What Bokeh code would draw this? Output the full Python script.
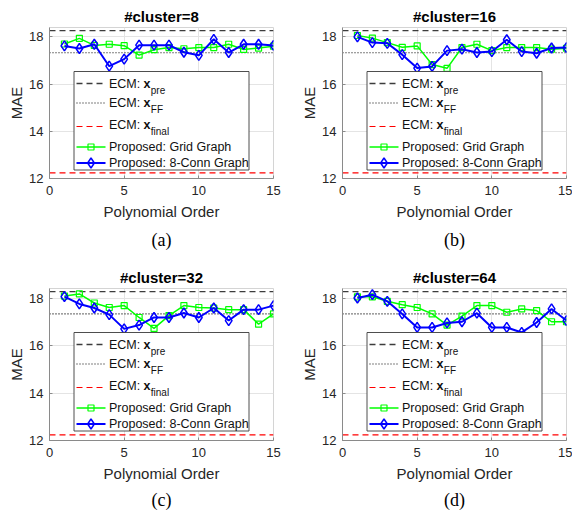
from bokeh.plotting import figure
from bokeh.models import Range1d, FixedTicker, Span, Title
from bokeh.layouts import column, row
from bokeh.embed import file_html
from bokeh.resources import INLINE
from bokeh.core.properties import value

# ---------------- data ----------------
orders = list(range(1, 16))
titles = ["#cluster=8", "#cluster=16", "#cluster=32", "#cluster=64"]
captions = ["(a)", "(b)", "(c)", "(d)"]
x_ticks = [0, 5, 10, 15]
y_ticks = [12, 14, 16, 18]

ecm_pre = 18.27
ecm_ff = 17.33
ecm_final = 12.24

grid_c8 = [17.70, 17.94, 17.64, 17.69, 17.63, 17.23, 17.46, 17.55, 17.50, 17.55, 17.55, 17.69, 17.47, 17.53, 17.61]
conn_c8 = [17.62, 17.51, 17.69, 16.76, 17.06, 17.65, 17.65, 17.65, 17.35, 17.22, 17.90, 17.34, 17.69, 17.69, 17.64]
grid_c16 = [18.06, 17.95, 17.76, 17.56, 17.62, 16.83, 16.67, 17.55, 17.69, 17.42, 17.55, 17.55, 17.55, 17.48, 17.52]
conn_c16 = [18.00, 17.76, 17.73, 17.25, 16.68, 16.75, 17.42, 17.48, 17.34, 17.38, 17.88, 17.38, 17.31, 17.53, 17.55]
grid_c32 = [18.08, 18.17, 17.79, 17.60, 17.68, 17.18, 16.72, 17.26, 17.68, 17.60, 17.58, 17.51, 17.51, 16.90, 17.33]
conn_c32 = [18.06, 17.75, 17.58, 17.30, 16.70, 16.86, 17.18, 17.18, 17.37, 17.18, 17.58, 17.05, 17.51, 17.51, 17.68]
grid_c64 = [18.05, 18.05, 17.86, 17.72, 17.60, 17.33, 16.86, 17.24, 17.68, 17.68, 17.40, 17.54, 17.47, 17.00, 17.00]
conn_c64 = [18.00, 18.14, 17.86, 17.33, 16.76, 16.76, 16.95, 17.00, 17.36, 16.76, 16.76, 16.55, 16.97, 17.54, 17.05]

X0, X1 = 0, 15
Y0, Y1 = 12, 18.4

SANS = "Liberation Sans"
SERIF = "Liberation Serif"
GREEN = "#00ff00"
BLUE = "#0000ff"
RED = "#ff0000"
DIAMOND = dict(marker="diamond", size=10, line_color=BLUE, fill_color=None, line_width=1.5)
SQUARE = dict(marker="square", size=6, line_color=GREEN, fill_color=None, line_width=1.2)


def make_panel(title, caption, grid_vals, conn_vals, left_b, right_b, top_b, bottom_b,
               height, cap_standoff):
    width = 286
    frame_w = width - left_b - right_b
    frame_h = height - top_b - bottom_b
    p = figure(width=width, height=height, output_backend="svg", toolbar_location=None,
               x_range=Range1d(X0, X1), y_range=Range1d(Y0, Y1),
               min_border_left=left_b, min_border_right=right_b,
               min_border_top=top_b, min_border_bottom=bottom_b)
    p.background_fill_color = "white"
    p.border_fill_color = "white"
    p.outline_line_color = "#d4d4d4"

    p.title.text = title
    p.title.align = "center"
    p.title.text_font = SANS
    p.title.text_font_size = "15px"
    p.title.text_font_style = "bold"
    p.title.text_color = "#000000"
    p.title.standoff = 6

    cap = Title(text=caption, align="center", text_font=SERIF, text_font_size="18px",
                text_font_style="normal", text_color="#000000", standoff=cap_standoff)
    p.add_layout(cap, "below")

    p.xaxis.ticker = FixedTicker(ticks=x_ticks)
    p.yaxis.ticker = FixedTicker(ticks=y_ticks)
    p.xaxis.axis_label = "Polynomial Order"
    p.yaxis.axis_label = "MAE"
    for ax in (p.xaxis[0], p.yaxis[0]):
        ax.axis_label_text_font = SANS
        ax.axis_label_text_font_size = "15px"
        ax.axis_label_text_font_style = "normal"
        ax.axis_label_text_color = "#262626"
        ax.major_label_text_font = SANS
        ax.major_label_text_font_size = "13px"
        ax.major_label_text_color = "#262626"
        ax.axis_line_color = "#8a8a8a"
        ax.major_tick_line_color = "#8a8a8a"
        ax.major_tick_in = 3
        ax.major_tick_out = 0
        ax.minor_tick_line_color = None
    p.xaxis.major_label_standoff = 7
    p.xaxis.axis_label_standoff = 5
    p.yaxis.major_label_standoff = 6
    p.yaxis.axis_label_standoff = 1

    p.xgrid.grid_line_color = "#e4e4e4"
    p.ygrid.grid_line_color = "#e4e4e4"

    p.add_layout(Span(location=ecm_pre, dimension="width", line_color="#3c3c3c",
                      line_dash="6 4", line_width=1.3, level="underlay"))
    p.add_layout(Span(location=ecm_ff, dimension="width", line_color="#000000",
                      line_dash="1 2", line_width=1.1, level="underlay"))
    p.add_layout(Span(location=ecm_final, dimension="width", line_color=RED,
                      line_dash="6 4", line_width=1.2, level="underlay"))

    p.line(orders, grid_vals, line_color=GREEN, line_width=1.5)
    p.scatter(orders, grid_vals, **SQUARE)
    p.line(orders, conn_vals, line_color=BLUE, line_width=2)
    p.scatter(orders, conn_vals, **DIAMOND)

    # ---- legend (drawn manually to get bold x with subscripts) ----
    ppx = frame_w / (X1 - X0)
    ppy = frame_h / (Y1 - Y0)

    def dx(px):
        return X0 + px / ppx

    def dy(py):
        return Y1 - py / ppy

    p.quad(left=[dx(24.5)], right=[dx(199.5)], top=[dy(44)], bottom=[dy(142.5)],
           fill_color="white", line_color="#3a3a3a", line_width=0.9)

    rows = [56.0, 75.0, 97.0, 119.5, 135.5]
    line_rows = [56.0, 75.5, 99.0, 119.5, 135.5]
    lx0, lx1, tx = 27, 56, 59.5
    ecm_styles = [("#3c3c3c", "6 4", 1.3), ("#000000", "1 2", 1.1), (RED, "6 4", 1.2)]
    subs = ["pre", "FF", "final"]
    tstyle = dict(text_font=value(SANS), text_font_size="12.5px", text_color="#111111",
                  text_baseline="middle", text_align="left")
    for i, (col, dash, lw) in enumerate(ecm_styles):
        ly = dy(line_rows[i])
        p.line([dx(lx0), dx(lx1)], [ly, ly], line_color=col, line_dash=dash, line_width=lw)
        p.text(x=[dx(tx)], y=[dy(rows[i])], text=["ECM:"], **tstyle)
        p.text(x=[dx(tx + 34.4)], y=[dy(rows[i])], text=["x"], text_font_style="bold",
               **tstyle)
        sub_style = dict(tstyle)
        sub_style["text_font_size"] = "10px"
        p.text(x=[dx(tx + 41.8)], y=[dy(rows[i] + 6.5)], text=[subs[i]], **sub_style)

    ly = dy(line_rows[3])
    p.line([dx(lx0), dx(lx1)], [ly, ly], line_color=GREEN, line_width=1.5)
    p.scatter([dx((lx0 + lx1) / 2)], [ly], **SQUARE)
    p.text(x=[dx(tx)], y=[dy(rows[3])], text=["Proposed: Grid Graph"], **tstyle)

    ly = dy(line_rows[4])
    p.line([dx(lx0), dx(lx1)], [ly, ly], line_color=BLUE, line_width=2)
    p.scatter([dx((lx0 + lx1) / 2)], [ly], **DIAMOND)
    p.text(x=[dx(tx)], y=[dy(rows[4])], text=["Proposed: 8-Conn Graph"], **tstyle)
    return p


pa = make_panel(titles[0], captions[0], grid_c8, conn_c8, 49, 13, 27, 81, 259, 10)
pb = make_panel(titles[1], captions[1], grid_c16, conn_c16, 56, 6, 27, 81, 259, 10)
pc = make_panel(titles[2], captions[2], grid_c32, conn_c32, 49, 13, 29, 78, 259, 7)
pd = make_panel(titles[3], captions[3], grid_c64, conn_c64, 56, 6, 29, 78, 259, 7)

layout = column(row(pa, pb), row(pc, pd))
open("out.html", "w").write(file_html(layout, INLINE))
